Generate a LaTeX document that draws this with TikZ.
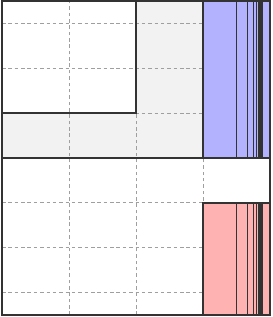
\documentclass[tikz,border=0pt]{standalone}
\usepackage{tikz}
\begin{document}
\begin{tikzpicture}[x=1cm, y=0.6695cm,
  gridline/.style={gray!75, dash pattern=on 1.5pt off 1.2pt, thin},
  edge/.style={draw=black!80, thick},
  upper/.style={fill=blue!30, draw=black!80, thick},
  lower/.style={fill=red!30, draw=black!80, thick},
  split/.style={black!80, semithick}
]
\useasboundingbox (-0.03,-3.545) rectangle (4.03,3.522);
% background regions
\fill[gray!10] (0,0) rectangle (3,3.5);
\fill[white] (0,1) rectangle (2,3.5);
% grid
\foreach \x in {1,2,3}
  \draw[gridline] (\x,-3.5) -- (\x,3.5);
\foreach \y in {-3,-2,-1,1,2,3}
  \draw[gridline] (0,\y) -- (4,\y);
\draw[edge] (0,1) -| (2,3.5);
% coloured strips
\draw[upper] (3,0) rectangle (4,3.5);
\draw[lower] (3,-1) rectangle (4,-3.5);
\foreach \n in {1,...,8}{
  \pgfmathsetmacro{\xs}{3+\n/(\n+1)}
  \draw[split] (\xs,0) -- (\xs,3.5);
  \draw[split] (\xs,-1) -- (\xs,-3.5);
}
% axis and frame
\draw[edge] (0,0) -- (4,0);
\draw[edge] (0,-3.5) rectangle (4,3.5);
\end{tikzpicture}
\end{document}
